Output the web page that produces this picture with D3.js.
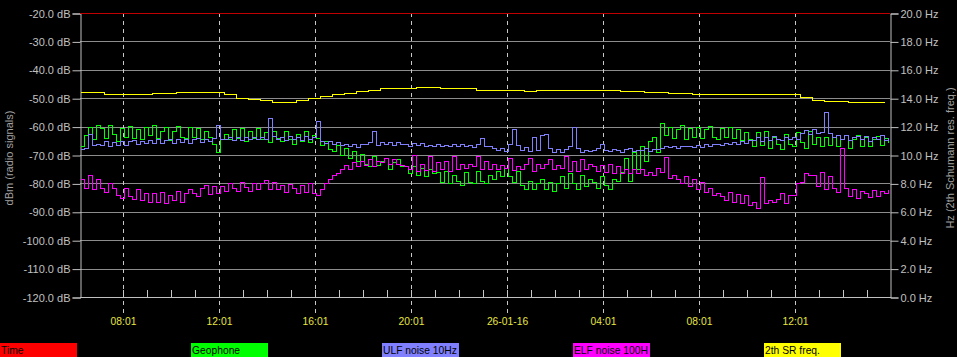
<!DOCTYPE html>
<html>
<head>
<meta charset="utf-8">
<script src="https://cdn.jsdelivr.net/npm/d3@7"></script>
<style>
html,body{margin:0;padding:0;background:#000;}
svg{display:block;}
text{font-family:"Liberation Sans",Arial,sans-serif;}
</style>
</head>
<body>
<svg id="chart" width="957" height="357"></svg>
<script>
// ---------------- data ----------------
const seriesNames = ["Time", "Geophone", "ULF noise 10Hz", "ELF noise 100H", "2th SR freq."];
const seriesColors = ["#ff0000", "#00ff00", "#8080ff", "#ff00ff", "#ffff00"];

const yTicksDb = [-20, -30, -40, -50, -60, -70, -80, -90, -100, -110, -120];
const yTicksHz = [0, 2, 4, 6, 8, 10, 12, 14, 16, 18, 20];
const xTickLabels = ["08:01", "12:01", "16:01", "20:01", "26-01-16", "04:01", "08:01", "12:01"];

// Time marker series (dB)
const timeValues = [-20, -20];

// 10-minute samples starting 25-01-16 06:14 (dBm)
const geophone = [
  -67, -63, -60, -64.5, -59.5,
  -60.5, -64, -59.5, -62.5, -65, -60.5, -63.5, -59.8, -64, -61, -64.5, -60, -63, -59.5, -64, -61.5, -60, -64.8, -61.5, -59.8, -63.5, -64, -60, -63.8, -60.5, -64.5, -61.5, -63.5,
  -66, -69, -64.5,
  -62.5, -64.5, -61, -64, -60.5, -65, -61.5, -64, -60.5, -64.5, -62, -65.5, -61.5, -64, -65, -61.5, -64.5, -66, -62.5, -65, -61.5, -65.5, -63,
  -64, -66.5, -65, -68,
  -68.5, -66.5, -70, -67.5, -71, -68.5, -72,
  -69.5, -73, -74, -70.5, -73.5, -72, -71, -75, -72.5, -71.5, -74,
  -74, -76.5, -73.8, -77, -74.5, -77.3, -75, -76.5,
  -76, -79.5, -75.5, -80, -77, -79, -80.5, -76, -79.5, -80, -75.5, -79, -80, -77,
  -78.5, -75.5, -77.5, -74.5, -77.5, -79.5, -75.5,
  -80.5, -82, -79, -82, -80, -78.5, -82, -79.5, -82.5, -80,
  -77.5, -81.5, -76.5, -80, -82, -77, -81, -78.5,
  -79.5, -81.5, -77.5, -80.5, -82, -78.5, -79,
  -76, -71, -79, -69, -75, -67, -72,
  -65, -63.5, -69,
  -58.7, -63, -60, -64, -61, -59.5, -64.5, -60.5, -63.5, -60, -64, -61, -59.8, -63.5, -64.5, -60.5, -63.8, -60, -64, -61, -64.6, -62,
  -64.5, -67, -62, -66.5, -61.5, -67.5, -63.5, -66, -68, -62.5, -66, -67, -62, -65.5, -67.5, -61.5, -66, -63.5, -67,
  -63.5, -66.5, -63.5, -67, -64.5, -63, -67.5, -64.5, -63, -66.8, -63.5, -67, -64.5, -63.2, -66.5, -64, -65.5
];

const ulfNoise = [
  -68, -67.5, -62.5, -66.5, -66,
  -66.5, -65.2, -66.8, -65.5, -66.5, -65, -66.4, -65.2, -64.8, -66.2, -65, -65.8, -64.7,
  -65.6, -64.5, -65.8, -64.8, -64.2, -65.6, -64.5, -65.3, -64.2, -65.6, -64.5, -64, -65.3, -64.3, -65, -64,
  -59.5, -64.5,
  -64.3, -63.6, -64.6, -63.5, -64.7, -63.6, -64.2, -63.5, -64.5, -63.7, -64.3, -57, -63.3, -64.4, -63.5, -64.6, -63.3, -64.4, -63.5, -64.6, -63.4, -64.3, -63.6,
  -58, -65, -65.6, -65.2, -66.3, -65.5, -66.5, -66.2, -66.8, -66.3, -67.2, -66.3,
  -66.3, -65.5, -61.4, -66.5, -65.3, -66.3, -65.5, -66.6, -65.4, -66.3,
  -66, -66.8, -65.6, -66.6, -65.8, -66.8, -66.4, -66.9, -66.2, -66.8, -66.4, -66.9, -66.2, -66.8, -66.3, -67, -66.5, -67.1, -66.3, -64, -67, -66.8,
  -67.5, -68.3, -67.5, -68.6, -66, -61, -66.5, -68.3, -67.3, -68.5, -63.8, -68.2, -63, -62.5, -67.5, -68.8, -67.8, -69, -68, -67, -60, -67.5, -68.8, -68.4, -68.6, -68.2, -67.6, -66, -68.3, -68.7, -67.9, -68.1, -68.8, -67.8, -67.4, -68.5, -68.2, -68.3, -67.6, -68.6, -67.8, -68,
  -67.7, -67, -67.3, -66.8, -67.5, -66.7, -67, -66.8, -67.3, -66.4, -67.1, -66.1, -66.9, -66, -66.3, -66.6, -65.6, -66.3, -65.3, -66, -65.1, -65.7, -64.8,
  -64.8, -63.8, -65, -63.6, -64.6, -63.4, -64.5, -64.8, -63.6, -64.4, -63.5, -64.5,
  -62.2, -61.3, -62.6, -61, -62.1, -61.8,
  -54.7,
  -62.3, -63.8, -62.8, -64.2, -63, -64.7, -63.5, -63.2, -64.5, -63.2, -64.9, -63.5, -64.3, -63, -64.6, -63.6
];

const elfNoise = [
  -78.5, -81.5, -77, -82, -78.5, -81.5, -83, -80,
  -81.5, -84, -85, -81.5, -84.5, -85.5, -82, -86, -83.5, -86.5,
  -83.5, -86.5, -83, -87, -84, -86, -82.5, -86.5, -83.5,
  -82, -83.5, -84.5, -81.5, -80.5, -83.8, -81, -83.5, -80.8,
  -82.5, -80, -81.5, -82.8, -79.5, -81.2, -82.5, -79.8, -82, -80, -78.8, -82, -79.5, -81.8,
  -80.5, -83, -80.2, -81.5, -83.3, -80.5, -83, -80, -83.5, -84,
  -82, -80, -78.5, -77, -76.5,
  -75, -73.5, -75, -72.5, -74, -72,
  -73.5, -71.5, -74, -72, -72.5, -71, -73, -71.5, -73, -73.5,
  -74, -75, -70, -75.5, -73, -75.2, -70.5, -75.6, -72.5, -75, -72.2, -75.5, -70.3, -74.8, -73,
  -74.5, -73, -74, -70.5, -74.8, -72.2, -75, -73,
  -75, -73.5, -74.5, -71, -75.2, -73.8, -74.8, -73, -71, -75.5, -73, -74.6, -73.3, -71.5, -75, -73.5,
  -74.5, -70.5, -75.5, -72, -75.6, -71.5, -74.8, -73.2, -74, -75.5,
  -73.5, -76, -73.2, -76.5, -73.8, -76.3, -74.8,
  -76.5, -75, -76.5, -75, -77, -76, -77, -74.5,
  -76, -70.8, -78, -77, -78.5, -80, -77.5, -81, -78.5, -82, -79.5, -83, -81.5,
  -84, -83.5, -84.5, -86, -83, -86.5, -83.8, -87, -84, -87.5,
  -86.5, -88.8, -77.6, -87, -86, -86.5, -85.5, -83.5, -87, -84,
  -84, -80, -79.5, -76.5, -77,
  -77, -81, -76, -82, -77.5, -81.5, -83, -67.6,
  -81.5, -84.5, -82, -85, -82.5, -83.5, -84.8, -82.2, -84.5, -82.5, -83.5, -82
];

// 30-minute samples starting 25-01-16 06:14 (Hz)
const srFreq = [
  14.44, 14.44, 14.28, 14.28, 14.28, 14.3, 14.38, 14.38, 14.42, 14.44,
  14.44, 14.44, 14.3, 14.0, 13.92, 13.9, 13.74, 13.74, 13.9, 13.98,
  14.16, 14.3, 14.4, 14.54, 14.56, 14.7, 14.7, 14.72, 14.82, 14.82,
  14.7, 14.7, 14.7, 14.58, 14.56, 14.56, 14.56, 14.54, 14.56, 14.56,
  14.56, 14.56, 14.56, 14.56, 14.56, 14.5, 14.48, 14.44, 14.44, 14.36,
  14.34, 14.3, 14.28, 14.28, 14.28, 14.28, 14.28, 14.28, 14.28, 14.28,
  14.1, 13.9, 13.78, 13.78, 13.74, 13.74, 13.74, 13.78
];

// ---------------- chart ----------------
(function () {
const svg = d3.select("#chart");
const pL = 80, pR = 890, pT = 13, pB = 297;

const t0 = new Date(2016, 0, 25, 6, 13, 30);
const t1 = new Date(2016, 0, 26, 15, 58, 30);
const dataStart = new Date(2016, 0, 25, 6, 14, 0);
const firstTick = new Date(2016, 0, 25, 8, 1, 0);

const x = d3.scaleTime().domain([t0, t1]).range([pL, pR]);
const y = d3.scaleLinear().domain([-120, -20]).range([pB, pT]);
const yHz = d3.scaleLinear().domain([0, 20]).range([pB, pT]);

const majorTicks = xTickLabels.map((_, i) => d3.timeHour.offset(firstTick, 4 * i));
const minorTicks = d3.timeHour.range(d3.timeHour.offset(firstTick, -1), t1, 1)
  .filter(d => d >= t0);

// horizontal grid
svg.append("g").selectAll("line").data(yTicksDb.filter(v => v > -120 && v < -20)).join("line")
  .attr("x1", pL).attr("x2", pR)
  .attr("y1", d => Math.round(y(d)) + 0.5).attr("y2", d => Math.round(y(d)) + 0.5)
  .attr("stroke", "#8c8c8c").attr("stroke-width", 1);

// vertical dashed grid
svg.append("g").selectAll("line").data(majorTicks).join("line")
  .attr("x1", d => Math.round(x(d)) + 0.5).attr("x2", d => Math.round(x(d)) + 0.5)
  .attr("y1", pT).attr("y2", pB + 16)
  .attr("stroke", "#c8c8c8").attr("stroke-width", 1).attr("stroke-dasharray", "4,4");

// minor hour ticks
svg.append("g").selectAll("line").data(minorTicks).join("line")
  .attr("x1", d => Math.round(x(d)) + 0.5).attr("x2", d => Math.round(x(d)) + 0.5)
  .attr("y1", pB - 7).attr("y2", pB)
  .attr("stroke", "#c8c8c8").attr("stroke-width", 1);

// axes
const axisColor = "#c0c0c0";
const gL = svg.append("g").attr("transform", `translate(${pL + 0.5},0.5)`)
  .call(d3.axisLeft(y).tickValues(yTicksDb).tickFormat(d => d.toFixed(1) + " dB").tickSize(8).tickPadding(2));
const gR = svg.append("g").attr("transform", `translate(${pR + 0.5},0.5)`)
  .call(d3.axisRight(yHz).tickValues(yTicksHz).tickFormat(d => d.toFixed(1) + " Hz").tickSize(8).tickPadding(2));
[gL, gR].forEach(g => {
  g.select(".domain").attr("stroke", axisColor);
  g.selectAll(".tick line").attr("stroke", axisColor);
  g.selectAll(".tick text").attr("fill", "#c0c0c0").style("font-size", "11px")
    .style("font-family", "'Liberation Sans', Arial, sans-serif");
});
svg.append("line").attr("x1", pL).attr("x2", pR + 1)
  .attr("y1", pB + 0.5).attr("y2", pB + 0.5).attr("stroke", axisColor);

// x labels
const gX = svg.append("g").attr("transform", `translate(0,${pB})`)
  .call(d3.axisBottom(x).tickValues(majorTicks).tickFormat((d, i) => xTickLabels[i]).tickSize(0).tickPadding(21));
gX.select(".domain").remove();
gX.selectAll(".tick text").attr("fill", "#e6e640").style("font-size", "10.3px")
  .style("font-family", "'Liberation Sans', Arial, sans-serif");

// axis titles
svg.append("text").attr("transform", `translate(13,158) rotate(-90)`)
  .attr("text-anchor", "middle").attr("fill", "#a0a0a0").style("font-size", "11px")
  .text("dBm (radio signals)");
svg.append("text").attr("transform", `translate(954,158) rotate(-90)`)
  .attr("text-anchor", "middle").attr("fill", "#a0a0a0").style("font-size", "11px")
  .text("Hz (2th Schumann res. freq.)");

// series
const tAt = (minutes) => (d, i) => x(d3.timeMinute.offset(dataStart, minutes * i));
svg.append("defs").append("clipPath").attr("id", "clip")
  .append("rect").attr("x", pL + 1).attr("y", pT - 1).attr("width", pR - pL - 1).attr("height", pB - pT + 1);
const plot = svg.append("g").attr("clip-path", "url(#clip)");

function drawSeries(vals, minutes, scale, color) {
  const line = d3.line().x(tAt(minutes)).y(d => Math.round(scale(d)) + 0.5).curve(d3.curveStepAfter);
  plot.append("path").datum(vals).attr("d", line)
    .attr("fill", "none").attr("stroke", color).attr("stroke-width", 1)
    .attr("shape-rendering", "crispEdges");
}
drawSeries(geophone, 10, y, seriesColors[1]);
drawSeries(ulfNoise, 10, y, seriesColors[2]);
drawSeries(elfNoise, 10, y, seriesColors[3]);
drawSeries(srFreq, 30, yHz, seriesColors[4]);

svg.append("path").datum(timeValues)
  .attr("d", d3.line().x((d, i) => i === 0 ? pL : pR).y(d => Math.round(y(d)) + 0.5))
  .attr("stroke", "#c00000").attr("stroke-width", 1).attr("fill", "none");

// legend
const leg = svg.append("g");
seriesNames.forEach((name, i) => {
  const lx = i * 191;
  const g = leg.append("g").attr("transform", `translate(${lx},343)`);
  g.append("clipPath").attr("id", "lc" + i).append("rect").attr("width", 77).attr("height", 14);
  g.append("rect").attr("width", 77).attr("height", 14).attr("fill", seriesColors[i]);
  g.append("text").attr("x", 1).attr("y", 11).attr("fill", "#000").style("font-size", "10.3px")
    .attr("clip-path", `url(#lc${i})`).text(name);
});
})();
</script>
</body>
</html>
